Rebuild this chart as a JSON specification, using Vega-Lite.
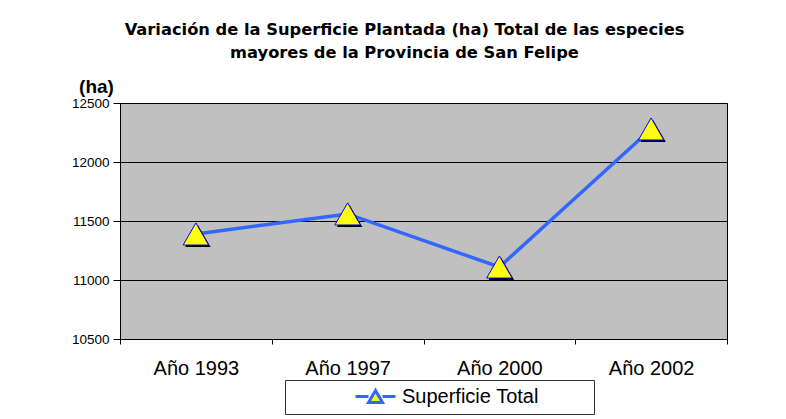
{
  "$schema": "https://vega.github.io/schema/vega-lite/v6.json",
  "width": 607,
  "height": 236,
  "autosize": {"type": "none"},
  "padding": {"left": 120, "top": 103, "right": 59, "bottom": 80},
  "background": "white",
  "config": {
    "view": {"fill": "#C0C0C0", "stroke": "black", "strokeWidth": 1},
    "font": "Liberation Sans"
  },
  "title": {
    "text": ["Variación de la Superficie Plantada (ha) Total de las especies", "mayores de la Provincia de San Felipe"],
    "fontSize": 16.3,
    "fontWeight": "bold",
    "font": "DejaVu Sans",
    "color": "black",
    "anchor": "middle",
    "dx": -19,
    "offset": 16,
    "lineHeight": 23
  },
  "data": {
    "values": [
      {"anio": "Año 1993", "ha": 11390, "serie": "Superficie Total"},
      {"anio": "Año 1997", "ha": 11560, "serie": "Superficie Total"},
      {"anio": "Año 2000", "ha": 11110, "serie": "Superficie Total"},
      {"anio": "Año 2002", "ha": 12280, "serie": "Superficie Total"}
    ]
  },
  "encoding": {
    "x": {
      "field": "anio",
      "type": "nominal",
      "sort": null,
      "bandPosition": 0.5,
      "scale": {"type": "band", "paddingInner": 0, "paddingOuter": 0},
      "axis": {
        "title": null,
        "labelAngle": 0,
        "labelFontSize": 20,
        "labelColor": "black",
        "labelPadding": 14,
        "tickBand": "extent",
        "tickColor": "black",
        "tickSize": 5,
        "domainColor": "black",
        "grid": false
      }
    },
    "y": {
      "field": "ha",
      "type": "quantitative",
      "scale": {"domain": [10500, 12500], "zero": false, "nice": false},
      "axis": {
        "values": [10500, 11000, 11500, 12000, 12500],
        "format": "d",
        "labelFontSize": 13.5,
        "labelColor": "black",
        "labelPadding": 4,
        "tickColor": "black",
        "tickSize": 7,
        "domainColor": "black",
        "gridColor": "black",
        "gridOpacity": 1,
        "title": "(ha)",
        "titleAngle": 0,
        "titleFontSize": 19,
        "titleFontWeight": "bold",
        "titleColor": "black",
        "titleX": -24,
        "titleY": -11,
        "titleAlign": "center",
        "titleBaseline": "alphabetic"
      }
    }
  },
  "layer": [
    {
      "mark": {"type": "line", "strokeWidth": 3.5},
      "encoding": {
        "color": {
          "field": "serie",
          "type": "nominal",
          "scale": {"range": ["#3366FF"]},
          "legend": {
            "orient": "none",
            "legendX": 165,
            "legendY": 277,
            "title": "\u00a0",
            "titleOrient": "right",
            "titlePadding": 50,
            "titleFontSize": 20,
            "strokeColor": "#333333",
            "fillColor": "white",
            "padding": 5,
            "symbolOffset": 74,
            "labelFontSize": 20,
            "labelColor": "black",
            "labelOffset": 15,
            "symbolType": "M-2,0L-0.7,0M0.7,0L2,0M-0.7,0.6L0,-0.6L0.7,0.6Z",
            "symbolSize": 400,
            "symbolStrokeWidth": 3,
            "symbolFillColor": "#FFFF00"
          }
        }
      }
    },
    {
      "mark": {"type": "point", "shape": "triangle-up", "filled": true, "size": 650, "color": "black", "opacity": 1, "xOffset": 2, "yOffset": 2}
    },
    {
      "mark": {"type": "point", "shape": "triangle-up", "filled": true, "size": 650, "fill": "#FFFF00", "stroke": "#0000FF", "strokeWidth": 1, "opacity": 1}
    }
  ]
}
